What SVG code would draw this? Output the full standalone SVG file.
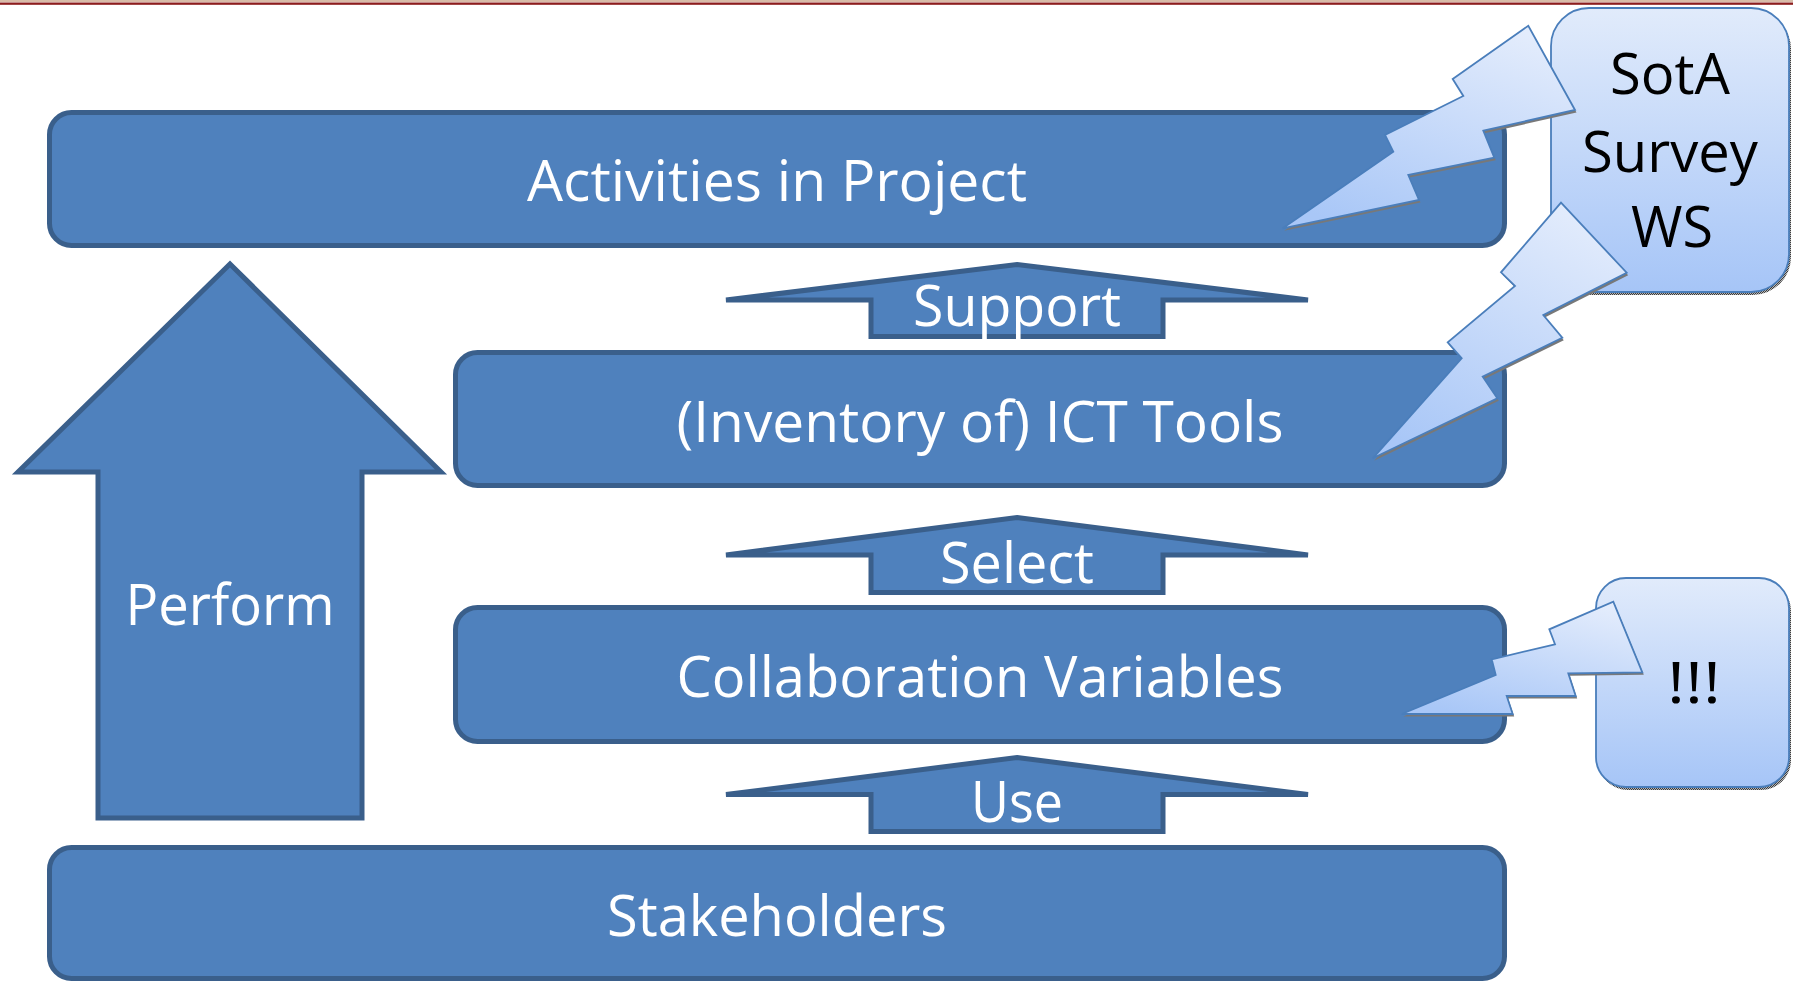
<svg xmlns="http://www.w3.org/2000/svg" width="1793" height="981" viewBox="0 0 1793 981">
<defs>
<linearGradient id="callGrad" x1="0" y1="0" x2="0" y2="1">
<stop offset="0" stop-color="#E1EBFB"/>
<stop offset="1" stop-color="#A6C5F7"/>
</linearGradient>
<linearGradient id="boltGrad" x1="0.75" y1="0" x2="0.25" y2="1">
<stop offset="0" stop-color="#E3ECFC"/>
<stop offset="1" stop-color="#A9C7F7"/>
</linearGradient>
<pattern id="shade" width="2" height="2" patternUnits="userSpaceOnUse">
<rect width="2" height="2" fill="#B5B5B5"/>
<rect width="1" height="1" fill="#3C3C3C"/>
<rect x="1" y="1" width="1" height="1" fill="#3C3C3C"/>
</pattern>
<style>
.blk{fill:#4F81BD;stroke:#3A5F8B;stroke-width:5;stroke-linejoin:miter;stroke-miterlimit:4}
.call{fill:url(#callGrad);stroke:#4A7EBB;stroke-width:1.8}
.bolt{fill:url(#boltGrad);stroke:#4A7EBB;stroke-width:1.8;stroke-linejoin:miter}
.shadow{fill:url(#shade)}
.wt{font-family:"Open Sans","Noto Sans",sans-serif;font-size:57px;fill:#FFFFFF;text-anchor:middle}
.bk{font-family:"Open Sans","Noto Sans",sans-serif;font-size:57px;fill:#000000;text-anchor:middle}
</style>
</defs>
<rect width="1793" height="981" fill="#FFFFFF"/>
<rect x="0" y="0" width="1793" height="2" fill="#D8BCA8"/>
<rect x="0" y="2.5" width="1793" height="2.3" fill="#8C1D1D"/>

<g id="activities">
<rect class="blk" x="49.5" y="112.5" width="1455" height="133" rx="22"/>
<text class="wt" x="777" y="201" textLength="500" lengthAdjust="spacingAndGlyphs">Activities in Project</text>
</g>
<g id="ict-tools">
<rect class="blk" x="455.5" y="352.5" width="1049" height="133" rx="22"/>
<text class="wt" x="980" y="442" textLength="607" lengthAdjust="spacingAndGlyphs">(Inventory of) ICT Tools</text>
</g>
<g id="collab-vars">
<rect class="blk" x="455.5" y="607.5" width="1049" height="134" rx="22"/>
<text class="wt" x="980" y="697" textLength="607" lengthAdjust="spacingAndGlyphs">Collaboration Variables</text>
</g>
<g id="stakeholders">
<rect class="blk" x="49.5" y="847.5" width="1455" height="131" rx="22"/>
<text class="wt" x="777" y="936" textLength="340" lengthAdjust="spacingAndGlyphs">Stakeholders</text>
</g>

<g id="perform">
<polygon class="blk" points="230,264 441,472 362,472 362,818 98,818 98,472 18,472"/>
<text class="wt" x="230" y="625" textLength="209" lengthAdjust="spacingAndGlyphs">Perform</text>
</g>
<g id="support">
<polygon class="blk" points="1017,264.5 1308,300 1163,300 1163,336.5 871,336.5 871,300 726,300"/>
<text class="wt" x="1017" y="326" textLength="208" lengthAdjust="spacingAndGlyphs">Support</text>
</g>
<g id="select">
<polygon class="blk" points="1017,517.5 1308,555 1163,555 1163,592.5 871,592.5 871,555 726,555"/>
<text class="wt" x="1017" y="583" textLength="154" lengthAdjust="spacingAndGlyphs">Select</text>
</g>
<g id="use">
<polygon class="blk" points="1017,757.5 1308,794.5 1163,794.5 1163,831.5 871,831.5 871,794.5 726,794.5"/>
<text class="wt" x="1017" y="822" textLength="92" lengthAdjust="spacingAndGlyphs">Use</text>
</g>

<g id="sota-survey">
<rect class="shadow" x="1553" y="11" width="238" height="284" rx="38"/>
<rect class="call" x="1551" y="8" width="238" height="284" rx="38"/>
<text class="bk" x="1670" y="94" textLength="120" lengthAdjust="spacingAndGlyphs">SotA</text>
<text class="bk" x="1670" y="172" textLength="176" lengthAdjust="spacingAndGlyphs">Survey</text>
<text class="bk" x="1672" y="247" textLength="82" lengthAdjust="spacingAndGlyphs">WS</text>
</g>
<g id="exclaim">
<rect class="shadow" x="1598" y="581" width="193" height="209" rx="30"/>
<rect class="call" x="1596" y="578" width="193" height="209" rx="30"/>
<text class="bk" x="1694" y="703" textLength="54" lengthAdjust="spacingAndGlyphs">!!!</text>
</g>

<g id="connectors">
<g transform="translate(1.5,2.5)" class="shadow">
<polygon points="1282.7,228.3 1393.3,151.7 1385,135 1463.3,96 1452.7,79 1528.3,25.7 1575,110 1483.3,130.7 1494.3,157.7 1408.3,175 1419,200"/>
<polygon points="1372.7,458.3 1461.7,358.3 1447.7,342.3 1515,286 1501,272.3 1561,202.7 1626.7,272.7 1543.3,315 1562.3,337.7 1482.7,376.7 1497.3,398.3"/>
<polygon points="1401.7,714 1495.7,675 1491.7,659.3 1555,644.3 1549.3,629.3 1613.3,601.7 1642.3,672.3 1568.3,673.3 1575.7,696 1506.7,696 1512.7,714"/>
</g>
<polygon id="bolt-activities" class="bolt" points="1282.7,228.3 1393.3,151.7 1385,135 1463.3,96 1452.7,79 1528.3,25.7 1575,110 1483.3,130.7 1494.3,157.7 1408.3,175 1419,200"/>
<polygon id="bolt-ict" class="bolt" points="1372.7,458.3 1461.7,358.3 1447.7,342.3 1515,286 1501,272.3 1561,202.7 1626.7,272.7 1543.3,315 1562.3,337.7 1482.7,376.7 1497.3,398.3"/>
<polygon id="bolt-collab" class="bolt" points="1401.7,714 1495.7,675 1491.7,659.3 1555,644.3 1549.3,629.3 1613.3,601.7 1642.3,672.3 1568.3,673.3 1575.7,696 1506.7,696 1512.7,714"/>
</g>
</svg>
